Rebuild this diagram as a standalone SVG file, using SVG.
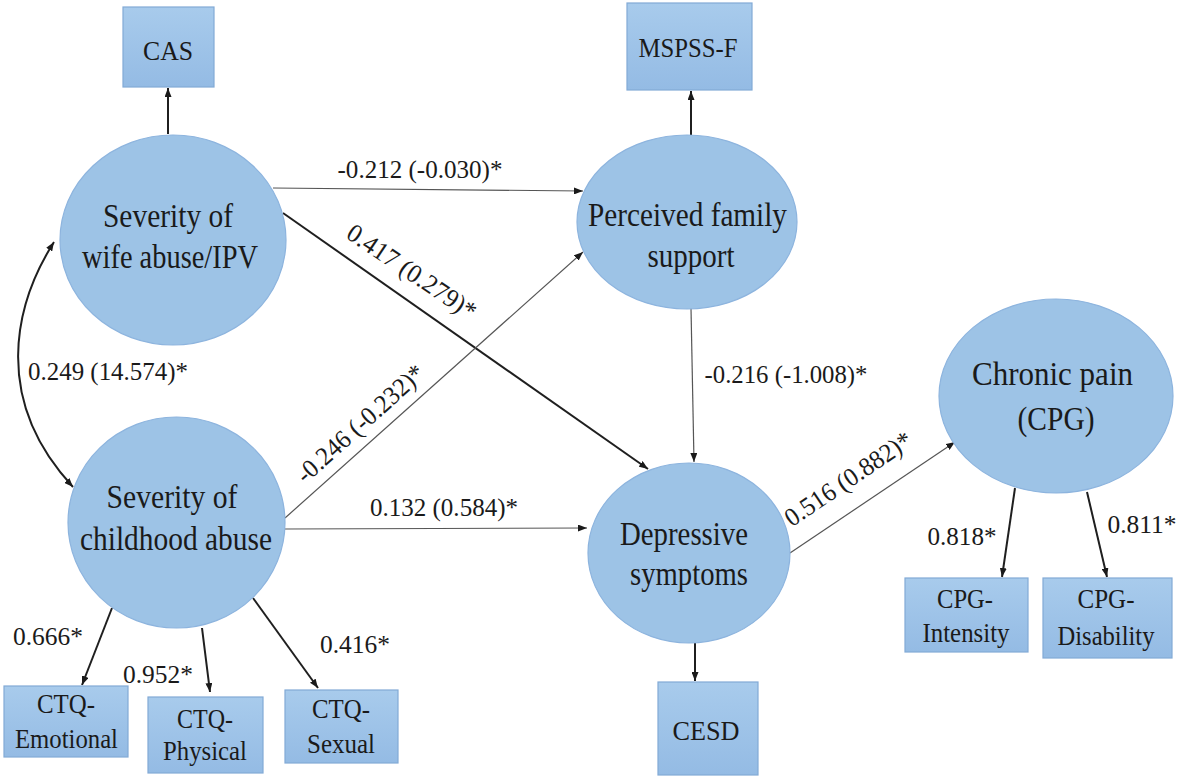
<svg xmlns="http://www.w3.org/2000/svg" width="1181" height="779" viewBox="0 0 1181 779" font-family="Liberation Serif, Times New Roman, serif">
<style>
text{fill:#1a1a1a;text-anchor:middle}
.n{font-size:34px}
.b{font-size:28px}
.e{font-size:26px}
.ell{fill:#9dc3e6;stroke:#8db4de;stroke-width:1.2}
.box{fill:url(#bg);stroke:#82aad6;stroke-width:1.2}
.thick{stroke:#1f1f1f;stroke-width:2;fill:none;marker-end:url(#ah)}
.thin{stroke:#555;stroke-width:1.2;fill:none;marker-end:url(#ah)}
</style>
<defs>
<linearGradient id="bg" x1="0" y1="0" x2="0" y2="1"><stop offset="0" stop-color="#a8cbec"/><stop offset="1" stop-color="#94bbe4"/></linearGradient>
<marker id="ah" markerUnits="userSpaceOnUse" markerWidth="9" markerHeight="7" refX="9" refY="3.5" orient="auto-start-reverse"><path d="M0,0 L9,3.5 L0,7 z" fill="#1a1a1a"/></marker>
</defs>
<rect width="1181" height="779" fill="#fff"/>
<g id="connectors">
<line class="thick" x1="168" y1="134" x2="168" y2="88"/>
<line class="thick" x1="691" y1="135" x2="691" y2="91"/>
<line class="thick" x1="695" y1="643" x2="695" y2="681"/>
<line class="thin" x1="273" y1="188" x2="583" y2="191"/>
<line class="thick" x1="283" y1="213" x2="648" y2="469"/>
<line class="thin" x1="285" y1="518" x2="583" y2="252"/>
<line class="thin" x1="285" y1="529" x2="587" y2="528"/>
<line class="thin" x1="691" y1="308" x2="694" y2="462"/>
<line class="thin" x1="790" y1="553" x2="955" y2="442"/>
<line class="thick" x1="1015" y1="488" x2="1002" y2="577"/>
<line class="thick" x1="1087" y1="492" x2="1107" y2="577"/>
<line class="thick" x1="112" y1="608" x2="82" y2="685"/>
<line class="thick" x1="202" y1="628" x2="210" y2="692"/>
<line class="thick" x1="253" y1="598" x2="318" y2="688"/>
<path class="thick" d="M54,242 C14,305 -8,400 73,487" style="marker-start:url(#ah)" stroke-width="1.8"/>
<text class="e" x="420" y="178" textLength="165" lengthAdjust="spacingAndGlyphs">-0.212 (-0.030)*</text>
<text class="e" x="108" y="380" textLength="160" lengthAdjust="spacingAndGlyphs">0.249 (14.574)*</text>
<text class="e" x="444" y="516" textLength="148" lengthAdjust="spacingAndGlyphs">0.132 (0.584)*</text>
<text class="e" x="786" y="383" textLength="163" lengthAdjust="spacingAndGlyphs">-0.216 (-1.008)*</text>
<text class="e" x="48" y="645" textLength="70" lengthAdjust="spacingAndGlyphs">0.666*</text>
<text class="e" x="158" y="683" textLength="70" lengthAdjust="spacingAndGlyphs">0.952*</text>
<text class="e" x="355" y="653" textLength="70" lengthAdjust="spacingAndGlyphs">0.416*</text>
<text class="e" x="962" y="545" textLength="69" lengthAdjust="spacingAndGlyphs">0.818*</text>
<text class="e" x="1142" y="533" textLength="69" lengthAdjust="spacingAndGlyphs">0.811*</text>
<text class="e" transform="translate(407,279) rotate(34)" x="0" y="0" textLength="150" lengthAdjust="spacingAndGlyphs">0.417 (0.279)*</text>
<text class="e" transform="translate(366,430) rotate(-42)" x="0" y="0" textLength="163" lengthAdjust="spacingAndGlyphs">-0.246 (-0.232)*</text>
<text class="e" transform="translate(853,486) rotate(-34)" x="0" y="0" textLength="148" lengthAdjust="spacingAndGlyphs">0.516 (0.882)*</text>
</g>
<g id="wife-abuse">
<ellipse class="ell" cx="173" cy="240" rx="113" ry="105"/>
<text class="n" x="168" y="227" textLength="130" lengthAdjust="spacingAndGlyphs">Severity of</text>
<text class="n" x="170" y="268" textLength="176" lengthAdjust="spacingAndGlyphs">wife abuse/IPV</text>
</g>
<g id="childhood-abuse">
<ellipse class="ell" cx="176.5" cy="522.5" rx="108.5" ry="105.5"/>
<text class="n" x="172" y="508" textLength="131" lengthAdjust="spacingAndGlyphs">Severity of</text>
<text class="n" x="176" y="550" textLength="192" lengthAdjust="spacingAndGlyphs">childhood abuse</text>
</g>
<g id="family-support">
<ellipse class="ell" cx="687" cy="222" rx="110" ry="87"/>
<text class="n" x="687.5" y="226" textLength="199" lengthAdjust="spacingAndGlyphs">Perceived family</text>
<text class="n" x="691" y="267" textLength="87" lengthAdjust="spacingAndGlyphs">support</text>
</g>
<g id="depressive">
<ellipse class="ell" cx="689" cy="553" rx="101" ry="90"/>
<text class="n" x="684" y="545" textLength="128" lengthAdjust="spacingAndGlyphs">Depressive</text>
<text class="n" x="689" y="585" textLength="118" lengthAdjust="spacingAndGlyphs">symptoms</text>
</g>
<g id="chronic-pain">
<ellipse class="ell" cx="1056" cy="396" rx="117" ry="97"/>
<text class="n" x="1052.5" y="385" textLength="161" lengthAdjust="spacingAndGlyphs">Chronic pain</text>
<text class="n" x="1056" y="430" textLength="77" lengthAdjust="spacingAndGlyphs">(CPG)</text>
</g>
<g id="cas">
<rect class="box" x="123" y="7" width="91" height="80"/>
<text class="b" x="168" y="60" textLength="50" lengthAdjust="spacingAndGlyphs">CAS</text>
</g>
<g id="mspss">
<rect class="box" x="627" y="3" width="125" height="87"/>
<text class="b" x="688" y="57" textLength="99" lengthAdjust="spacingAndGlyphs">MSPSS-F</text>
</g>
<g id="cesd">
<rect class="box" x="658" y="682" width="100" height="93"/>
<text class="b" x="706" y="740" textLength="67" lengthAdjust="spacingAndGlyphs">CESD</text>
</g>
<g id="ctq-emotional">
<rect class="box" x="4" y="686" width="124" height="71"/>
<text class="b" x="66" y="713" textLength="58" lengthAdjust="spacingAndGlyphs">CTQ-</text>
<text class="b" x="66.5" y="748" textLength="103" lengthAdjust="spacingAndGlyphs">Emotional</text>
</g>
<g id="ctq-physical">
<rect class="box" x="148" y="697" width="115" height="76"/>
<text class="b" x="205" y="728" textLength="56" lengthAdjust="spacingAndGlyphs">CTQ-</text>
<text class="b" x="205" y="760" textLength="84" lengthAdjust="spacingAndGlyphs">Physical</text>
</g>
<g id="ctq-sexual">
<rect class="box" x="285" y="690" width="113" height="73"/>
<text class="b" x="341" y="718" textLength="58" lengthAdjust="spacingAndGlyphs">CTQ-</text>
<text class="b" x="341" y="753" textLength="68" lengthAdjust="spacingAndGlyphs">Sexual</text>
</g>
<g id="cpg-intensity">
<rect class="box" x="905" y="578" width="123" height="74"/>
<text class="b" x="965" y="608" textLength="56" lengthAdjust="spacingAndGlyphs">CPG-</text>
<text class="b" x="966" y="642" textLength="87" lengthAdjust="spacingAndGlyphs">Intensity</text>
</g>
<g id="cpg-disability">
<rect class="box" x="1043" y="578" width="129" height="80"/>
<text class="b" x="1106" y="608" textLength="57" lengthAdjust="spacingAndGlyphs">CPG-</text>
<text class="b" x="1106" y="645" textLength="97" lengthAdjust="spacingAndGlyphs">Disability</text>
</g>
</svg>
